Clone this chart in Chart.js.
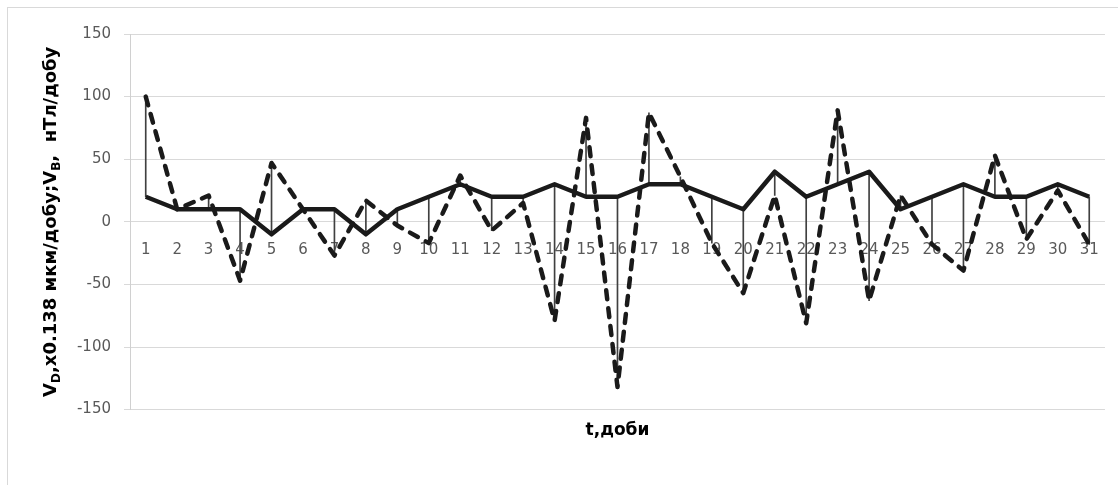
<!DOCTYPE html>
<html>
<head>
<meta charset="utf-8">
<script src="https://cdn.jsdelivr.net/npm/chart.js@4/dist/chart.umd.min.js"></script>
<style>
  html, body { margin: 0; padding: 0; background: #fff; overflow: hidden; }
  #wrap { position: relative; width: 1118px; height: 485px; }
  #frame { position: absolute; left: 7px; top: 7px; width: 1300px; height: 700px; border: 1px solid #d9d9d9; }
  #myChart { position: absolute; left: 0; top: 0; }
</style>
</head>
<body>
<div id="wrap">
  <div id="frame"></div>
  <canvas id="myChart" width="1118" height="485"></canvas>
</div>
<script>
// days 1..31
var days = ['1','2','3','4','5','6','7','8','9','10','11','12','13','14','15','16','17','18','19','20','21','22','23','24','25','26','27','28','29','30','31'];
// solid line
var vB = [20, 10, 10, 10, -10, 10, 10, -10, 10, 20, 30, 20, 20, 30, 20, 20, 30, 30, 20, 10, 40, 20, 30, 40, 10, 20, 30, 20, 20, 30, 20];
// dashed line
var vD = [100, 10, 21, -47, 47, 10, -27, 17, -3, -17, 37, -7, 15, -79, 83, -132, 87, 36, -17, -57, 21, -81, 89, -63, 21, -18, -39, 53, -14, 25, -18];
var yTicks = [-150, -100, -50, 0, 50, 100, 150];

// high-low lines between the two series
var hiLo = vB.map(function (v, i) { return [Math.min(v, vD[i]), Math.max(v, vD[i])]; });

var tickFont = { family: 'DejaVu Sans', size: 15 };
var titleFont = { family: 'DejaVu Sans', size: 17, weight: 'bold' };

// y title with subscripts, drawn rotated
var yTitle = {
    id: 'yTitle',
    afterDraw: function (chart) {
        var ctx = chart.ctx;
        var parts = [
            ['V', false], ['D', true], [',x0.138 мкм/добу;V', false], ['B', true], [',  нТл/добу', false]
        ];
        var big = 'bold 18px "DejaVu Sans"';
        var small = 'bold 12px "DejaVu Sans"';
        ctx.save();
        var total = 0;
        parts.forEach(function (p) {
            ctx.font = p[1] ? small : big;
            total += ctx.measureText(p[0]).width;
        });
        var mid = (chart.chartArea.top + chart.chartArea.bottom) / 2;
        ctx.translate(56, mid);
        ctx.rotate(-Math.PI / 2);
        ctx.fillStyle = '#000';
        ctx.textBaseline = 'alphabetic';
        var x = -total / 2;
        parts.forEach(function (p) {
            ctx.font = p[1] ? small : big;
            ctx.fillText(p[0], x, p[1] ? 4 : 0);
            x += ctx.measureText(p[0]).width;
        });
        ctx.restore();
    }
};

var ctx = document.getElementById('myChart').getContext('2d');
var chart = new Chart(ctx, {
    type: 'line',
    data: {
        labels: days,
        datasets: [{
            label: 'V_B',
            data: vB,
            borderColor: '#1a1a1a',
            borderWidth: 4.5,
            pointRadius: 0,
            tension: 0,
            borderJoinStyle: 'round',
            order: 1
        }, {
            label: 'V_D',
            data: vD,
            borderColor: '#1a1a1a',
            borderWidth: 4.5,
            borderDash: [9, 9],
            borderCapStyle: 'round',
            borderJoinStyle: 'round',
            pointRadius: 0,
            tension: 0,
            order: 2
        }, {
            type: 'bar',
            label: 'hi-lo',
            data: hiLo,
            backgroundColor: '#404040',
            barThickness: 1,
            order: 3
        }]
    },
    plugins: [yTitle],
    options: {
        responsive: false,
        animation: false,
        layout: { padding: { left: 0, right: 13, top: 34, bottom: 44 } },
        plugins: {
            legend: { display: false },
            tooltip: { enabled: false }
        },
        scales: {
            x: {
                type: 'category',
                offset: true,
                position: { y: 0 },
                grid: { display: false, drawTicks: false },
                border: { display: false },
                ticks: { color: '#595959', font: tickFont, padding: 19, autoSkip: false, maxRotation: 0 }
            },
            x2: {
                type: 'category',
                display: true,
                position: 'bottom',
                grid: { display: false, drawTicks: false },
                border: { display: false },
                ticks: { display: false },
                title: { display: true, text: 't,доби', color: '#000', font: titleFont, padding: { top: 11, bottom: 0 } }
            },
            y: {
                min: -150,
                max: 150,
                afterFit: function (s) { s.width = 130; },
                afterBuildTicks: function (s) { s.ticks = yTicks.map(function (v) { return { value: v }; }); },
                grid: { color: '#d9d9d9', tickLength: 6 },
                border: { color: '#d0d0d0' },
                ticks: { color: '#595959', font: tickFont, padding: 13 }
            }
        }
    }
});
</script>
</body>
</html>
